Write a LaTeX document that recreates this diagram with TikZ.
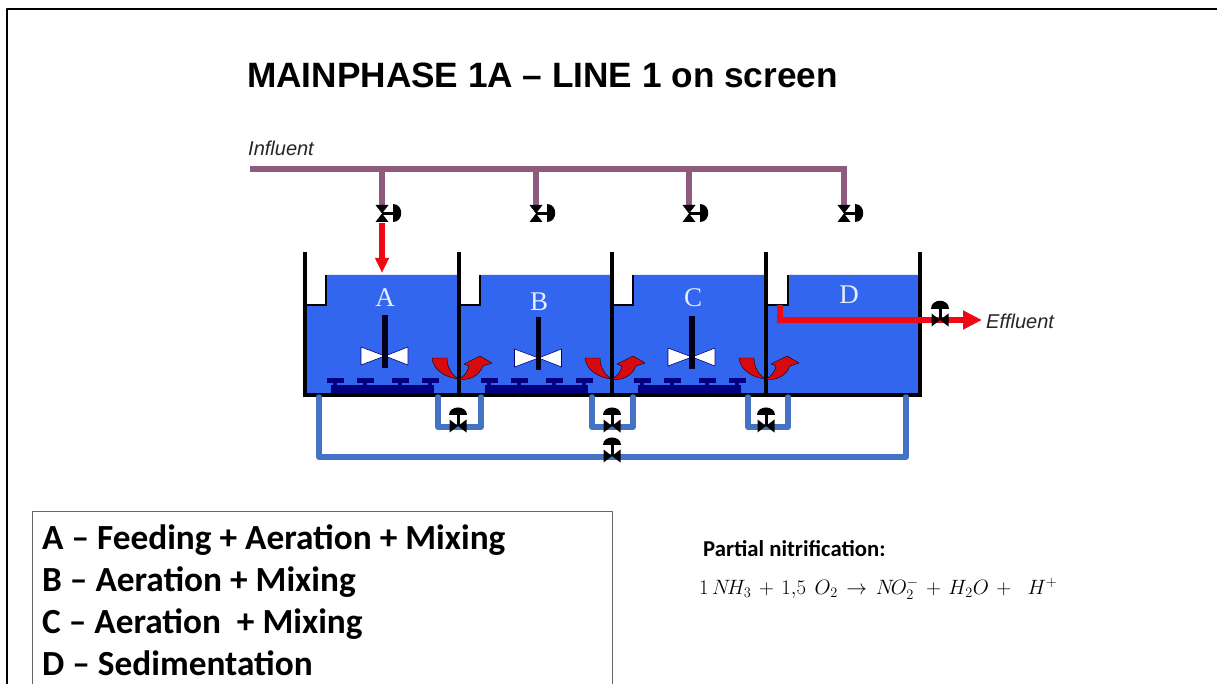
\documentclass[tikz,border=0pt]{standalone}
\usepackage{fontspec}
\setmainfont{Liberation Sans}
\newfontfamily\carlitofont{Carlito}
\newfontfamily\timesfont{Liberation Serif}
\usepackage{xcolor}
\usetikzlibrary{arrows.meta,calc,positioning}
\definecolor{waterblue}{HTML}{3366EE}
\definecolor{pipeblue}{HTML}{4472C4}
\definecolor{influentpipe}{HTML}{8E5A7E}
\definecolor{navybar}{HTML}{000080}
\definecolor{flowred}{HTML}{EE0A14}
\definecolor{curvered}{HTML}{D80A10}
\definecolor{letterwhite}{HTML}{E4EEFF}
\tikzset{
  wall/.style={line width=3.2pt,line cap=butt,line join=miter},
  bluepipe/.style={pipeblue,line width=5.5pt,line join=round},
  purplepipe/.style={influentpipe,line width=6pt},
  redflow/.style={flowred,line width=6.5pt,line join=miter},
  tanklabel/.style={font=\timesfont\fontsize{27}{27}\selectfont,text=letterwhite,inner sep=0pt},
  legendline/.style={font=\carlitofont\bfseries\fontsize{35.3}{36}\selectfont,anchor=base west,inner sep=0pt},
  valve/.pic={
    \fill[black] (-8.5,-6.5) -- (-8.5,6.5) -- (0,0) -- cycle;
    \fill[black] (8.5,-6.5) -- (8.5,6.5) -- (0,0) -- cycle;
    \draw[black,line width=3pt,line cap=butt] (0,0) -- (0,-13);
    \fill[black] (-9,-11) .. controls (-9,-21.5) and (9,-21.5) .. (9,-11) -- cycle;
  },
  mixer/.pic={
    \draw[navybar,fill=white,line width=0.6pt] (0,0) -- (-24,-9) -- (-24,9) -- cycle;
    \draw[navybar,fill=white,line width=0.6pt] (0,0) -- (23,-9) -- (23,9) -- cycle;
    \draw[black!80!navybar,line width=5.5pt,line cap=butt] (0,-41) -- (0,12);
  },
  aerator/.pic={
    \fill[navybar] (26,7) rectangle (129,15);
    \foreach \t in {30,60,95,125}{
      \fill[navybar] ($(\t,0)+(-8.5,0)$) rectangle ($(\t,0)+(8.5,4.5)$);
      \fill[navybar] ($(\t,0)+(-2,4)$) rectangle ($(\t,0)+(2,9)$);
    }
  },
  curvedarrows/.pic={
    \draw[black,fill=curvered,line width=0.4pt] (0,0) .. controls (-13,-1) and (-26,-9) .. (-27,-21)
      -- (-12,-21) .. controls (-12,-12) and (-7,-3) .. (0,0) -- cycle;
    \draw[black,fill=curvered,line width=0.4pt] (0,0) .. controls (6,-3) and (9,-8) .. (10,-13)
      -- (5,-15) -- (21,-23) -- (33,-16) -- (24,-13) .. controls (20,-3) and (10,2) .. (0,0) -- cycle;
  }
}
\begin{document}
\begin{tikzpicture}[x=1pt,y=-1pt,line cap=round,line join=round]
\useasboundingbox (0,0) rectangle (1217,684);
\fill[white] (0,0) rectangle (1217,684);
% outer frame
\draw[black,line width=2.6pt,line cap=butt] (7,684) -- (7,9) -- (1217,9);
% title and texts
\node[anchor=base west,inner sep=0pt,font=\bfseries\fontsize{35.2}{36}\selectfont] (title) at (247,88) {MAINPHASE 1A – LINE 1 on screen};
\node[anchor=base west,inner sep=0pt,font=\itshape\fontsize{20}{20}\selectfont,text=black!85] (influent) at (248,156) {Influent};
\node[anchor=base west,inner sep=0pt,font=\itshape\fontsize{20}{20}\selectfont,text=black!85] (effluent) at (986,328) {Effluent};
% water
\fill[waterblue] (305,395) -- (305,305) -- (326,305) -- (326,275) -- (459,275) -- (459,305) -- (480,305) -- (480,275)
  -- (612,275) -- (612,305) -- (633,305) -- (633,275) -- (766,275) -- (766,305) -- (788,305) -- (788,275)
  -- (920,275) -- (920,395) -- cycle;
% tank walls
\foreach \x/\b in {305/326,459/480,612/633,766/788}{
  \draw[wall] (\x,252) -- (\x,395);
  \draw[wall,line width=2.4pt] (\x,305) -- (\b,305) -- (\b,275);
}
\draw[wall] (920,252) -- (920,395);
\draw[wall] (303.4,395) -- (921.6,395);
% influent pipes
\coordinate (headerL) at (250,169);
\coordinate (headerR) at (847,169);
\draw[purplepipe,line cap=butt] (headerL) -- (headerR);
\foreach \x in {382,536,689,844}{
  \draw[purplepipe,line cap=butt] (\x,169) -- (\x,206);
  \pic[rotate=-90] at (\x,213.5) {valve};
}
% return pipes
\coordinate (returnL) at (319,397);
\coordinate (returnR) at (906,397);
\draw[bluepipe] (returnL) -- (319,457) -- (906,457) -- (returnR);
\foreach \l/\r in {438/481,592/633,748/788}
  \draw[bluepipe] (\l,397) -- (\l,427) -- (\r,427) -- (\r,397);
\foreach \x in {458,612,766}
  \pic at (\x,426) {valve};
\pic at (612,456) {valve};
% tanks inside
\pic at (385,356) {mixer};
\pic at (538.5,358) {mixer};
\pic at (692,357) {mixer};
\foreach \x in {305,459,612}
  \pic at (\x,378) {aerator};
\foreach \x in {459,612,766}
  \pic at (\x,379) {curvedarrows};
\node[tanklabel] (labelA) at (385,298) {A};
\node[tanklabel] (labelB) at (539,302) {B};
\node[tanklabel] (labelC) at (693,298) {C};
\node[tanklabel] (labelD) at (849,295) {D};
% red flows
\coordinate (feedS) at (382,223);
\coordinate (feedE) at (382,273);
\draw[flowred,line width=6.5pt,line cap=butt,-{Triangle[length=15pt,width=13pt]}] (feedS) -- (feedE);
\coordinate (overflow) at (780,305);
\coordinate (outE) at (982,320);
\draw[redflow,line cap=butt,-{Triangle[length=19pt,width=18pt]}] (overflow) -- (780,320) -- (outE);
\pic at (940,320) {valve};
% legend
\draw[black!60,line width=1pt,line cap=butt] (32,684) -- (32,511) -- (612,511) -- (612,684);
\node[legendline] (legA) at (42,549) {A – Feeding + Aeration + Mixing};
\node[legendline] (legB) at (42,591) {B – Aeration + Mixing};
\node[legendline] (legC) at (42,633) {C – Aeration\ \ + Mixing};
\node[legendline] (legD) at (42,675) {D – Sedimentation};
% reaction
\node[anchor=base west,inner sep=0pt,font=\carlitofont\bfseries\fontsize{22.7}{23}\selectfont] (partial) at (703,556) {Partial nitrification:};
\node[anchor=base west,inner sep=0pt,font=\fontsize{21}{21}\selectfont] (reaction) at (699,594) {\medmuskip=6.5mu\thickmuskip=7.5mu$1\,N\!H_3+1{,}5\;O_2\rightarrow N\!O_2^-+H_2O+\;H^+$};
\end{tikzpicture}
\end{document}
